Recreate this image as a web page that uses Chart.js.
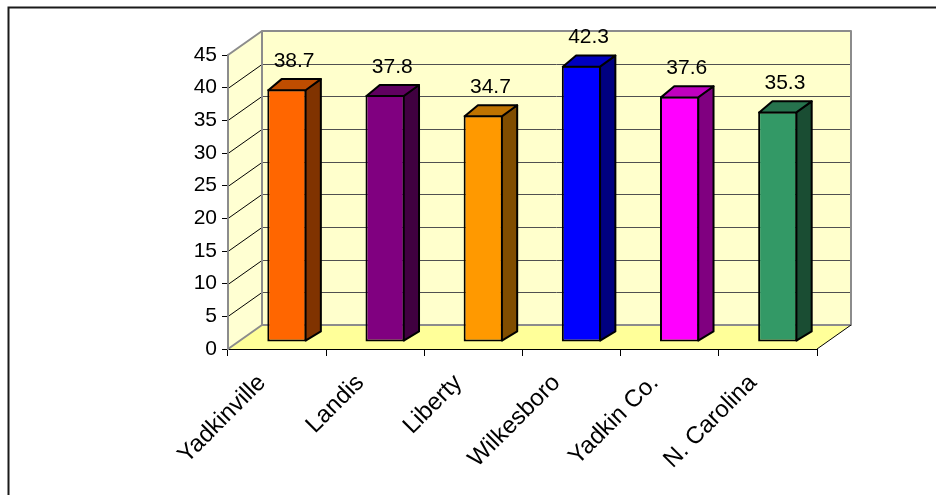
<!DOCTYPE html>
<html>
<head>
<meta charset="utf-8">
<title>Median age by area</title>
<script src="https://cdn.jsdelivr.net/npm/chart.js@4/dist/chart.umd.min.js"></script>
<style>
  html, body { margin: 0; padding: 0; background: #ffffff; }
  #wrap { width: 936px; height: 495px; }
</style>
</head>
<body>
<div id="wrap"><canvas id="chart" width="936" height="495"></canvas></div>
<script>
// ---- data ----
const categories = ['Yadkinville', 'Landis', 'Liberty', 'Wilkesboro', 'Yadkin Co.', 'N. Carolina'];
const values = [38.7, 37.8, 34.7, 42.3, 37.6, 35.3];
const barColors = ['#FF6600', '#800080', '#FF9900', '#0000FF', '#FF00FF', '#339966'];
const yMin = 0, yMax = 45, yStep = 5;

// ---- 3D look ----
const FONT = '"Liberation Sans", Arial, sans-serif';
const WALL_DX = 34, WALL_DY = -24;          // depth of the walls/floor
const BAR_FRONT = 0.29, BAR_DEPTH = 0.42;   // bar slab position within the depth

function shade(hex, f) {
  const n = parseInt(hex.slice(1), 16);
  const r = Math.round(((n >> 16) & 255) * f);
  const g = Math.round(((n >> 8) & 255) * f);
  const b = Math.round((n & 255) * f);
  return `rgb(${r},${g},${b})`;
}

function poly(ctx, pts) {
  ctx.beginPath();
  ctx.moveTo(pts[0][0], pts[0][1]);
  for (let i = 1; i < pts.length; i++) ctx.lineTo(pts[i][0], pts[i][1]);
  ctx.closePath();
}

const depth3d = {
  id: 'depth3d',
  beforeDraw(chart) {
    const { ctx, chartArea: a, scales: { y } } = chart;
    const W = chart.width, H = chart.height;
    ctx.save();
    ctx.fillStyle = '#ffffff';
    ctx.fillRect(0, 0, W, H);

    // outer frame (left and top edges)
    ctx.strokeStyle = '#1a1a1a';
    ctx.lineWidth = 2;
    ctx.beginPath();
    ctx.moveTo(8.5, H);
    ctx.lineTo(8.5, 7.5);
    ctx.lineTo(W, 7.5);
    ctx.stroke();

    const x0 = a.left, x1 = a.right;
    const yb = y.getPixelForValue(yMin), yt = y.getPixelForValue(yMax);
    const dx = WALL_DX, dy = WALL_DY;

    // back wall
    ctx.fillStyle = '#FFFFCC';
    ctx.fillRect(x0 + dx, yt + dy, x1 - x0, yb - yt);
    // side wall
    poly(ctx, [[x0, yb], [x0, yt], [x0 + dx, yt + dy], [x0 + dx, yb + dy]]);
    ctx.fillStyle = '#FFFFD2';
    ctx.fill();
    // floor
    poly(ctx, [[x0, yb], [x1, yb], [x1 + dx, yb + dy], [x0 + dx, yb + dy]]);
    ctx.fillStyle = '#FFFF99';
    ctx.fill();

    // gridlines on the back wall and the side wall
    ctx.lineWidth = 1;
    for (let v = yMin + yStep; v < yMax; v += yStep) {
      const p = Math.round(y.getPixelForValue(v)) + 0.5;
      ctx.strokeStyle = '#505050';
      ctx.beginPath();
      ctx.moveTo(x0 + dx, p + dy);
      ctx.lineTo(x1 + dx, p + dy);
      ctx.stroke();
      ctx.strokeStyle = '#000000';
      ctx.beginPath();
      ctx.moveTo(x0, p);
      ctx.lineTo(x0 + dx, p + dy);
      ctx.stroke();
    }

    // wall edges
    ctx.strokeStyle = '#8c8c8c';
    ctx.lineWidth = 2;
    ctx.lineJoin = 'round';
    ctx.strokeRect(x0 + dx, yt + dy, x1 - x0, yb - yt);
    ctx.beginPath();
    ctx.moveTo(x0, yt); ctx.lineTo(x0 + dx, yt + dy);
    ctx.moveTo(x0, yb); ctx.lineTo(x0 + dx, yb + dy);
    ctx.stroke();
    // front right edge of the floor
    ctx.strokeStyle = '#000000';
    ctx.lineWidth = 1;
    ctx.beginPath();
    ctx.moveTo(x1, yb); ctx.lineTo(x1 + dx, yb + dy);
    ctx.stroke();
    ctx.restore();
  },
  beforeDatasetsDraw(chart) {
    // bars stand in the middle of the floor depth
    chart.ctx.save();
    chart.ctx.translate(WALL_DX * BAR_FRONT, WALL_DY * BAR_FRONT);
  },
  afterDatasetsDraw(chart) {
    const ctx = chart.ctx;
    ctx.restore();
    const ox = WALL_DX * BAR_FRONT, oy = WALL_DY * BAR_FRONT;
    const bdx = WALL_DX * BAR_DEPTH, bdy = WALL_DY * BAR_DEPTH;
    const meta = chart.getDatasetMeta(0);
    ctx.save();
    ctx.lineWidth = 2;
    ctx.lineJoin = 'round';
    ctx.strokeStyle = '#000000';
    meta.data.forEach((el, i) => {
      const p = el.getProps(['x', 'y', 'base', 'width'], true);
      const L = p.x - p.width / 2 + ox, R = p.x + p.width / 2 + ox;
      const T = p.y + oy, B = p.base + oy;
      const c = barColors[i];
      // side face
      poly(ctx, [[R - 1, T], [R + bdx, T + bdy], [R + bdx, B + bdy], [R - 1, B - 1]]);
      ctx.fillStyle = shade(c, 0.5);
      ctx.fill();
      ctx.stroke();
      // top face
      poly(ctx, [[L + 1, T + 1], [L + bdx, T + bdy], [R + bdx, T + bdy], [R - 1, T + 1]]);
      ctx.fillStyle = shade(c, 0.75);
      ctx.fill();
      ctx.stroke();
      // value label
      ctx.fillStyle = '#000000';
      ctx.font = '21px ' + FONT;
      ctx.textAlign = 'center';
      ctx.textBaseline = 'middle';
      ctx.fillText(values[i].toFixed(1), (L + R + bdx) / 2, T + bdy - 18);
    });
    ctx.restore();
  }
};

new Chart(document.getElementById('chart'), {
  type: 'bar',
  data: {
    labels: categories,
    datasets: [{
      data: values,
      backgroundColor: barColors,
      borderColor: '#000000',
      borderWidth: 2,
      borderSkipped: false,
      categoryPercentage: 1.0,
      barPercentage: 0.4
    }]
  },
  options: {
    responsive: false,
    animation: false,
    layout: { padding: { top: 55, right: 119, left: 0, bottom: 0 } },
    plugins: { legend: { display: false }, tooltip: { enabled: false } },
    scales: {
      x: {
        grid: { drawOnChartArea: false, tickLength: 7, color: '#000000', offset: true },
        border: { color: '#000000', width: 1 },
        ticks: {
          minRotation: 45, maxRotation: 45, autoSkip: false,
          color: '#000000', padding: 13, labelOffset: -15,
          font: { size: 24, family: FONT }
        },
        afterFit(scale) { scale.height = 146; }
      },
      y: {
        min: yMin, max: yMax,
        grid: { drawOnChartArea: false, tickLength: 6, color: '#000000' },
        border: { color: '#8c8c8c', width: 2 },
        ticks: { stepSize: yStep, color: '#000000', padding: 5, font: { size: 21, family: FONT } },
        afterFit(scale) { scale.width = 228; }
      }
    }
  },
  plugins: [depth3d]
});
</script>
</body>
</html>
